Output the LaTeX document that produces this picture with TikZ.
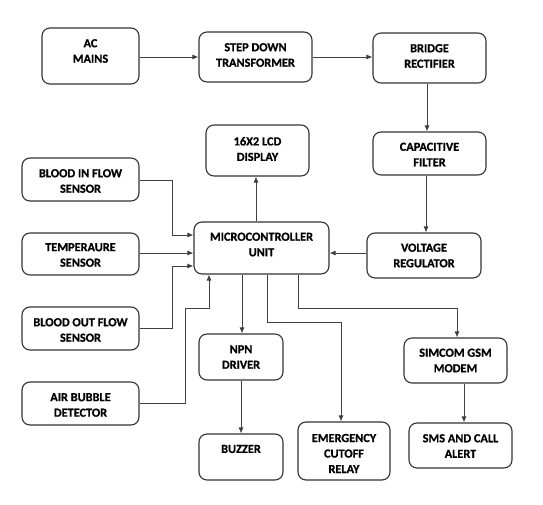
\documentclass[tikz,border=0pt]{standalone}
\usepackage{fontspec}
\setmainfont{Carlito}[BoldFont={Carlito Bold},BoldFeatures={FakeBold=0.8}]
\usetikzlibrary{fit,arrows.meta}
\begin{document}
\begin{tikzpicture}[x=1pt,y=-1pt,
  blk/.style={draw=black!80,line width=1.1pt,rounded corners=8pt,inner sep=0pt},
  txt/.style={align=center,font=\fontsize{12.3}{15.5}\selectfont\bfseries,inner sep=0pt,text=black},
  arr/.style={draw=black!75,line width=0.9pt,-{Latex[length=6pt,width=5pt]}},
  ln/.style={draw=black!75,line width=0.9pt}]
\useasboundingbox (0,0) rectangle (543,505);
\newcommand{\blk}[8]{%
  \node[blk,fit={(#2,#3)(#4,#5)}] (#1) {};
  \node[txt] (#1t) at (#6) {#7#8};}
\blk{ac}{42}{28}{139}{84}{90.5,51}{AC\\MAINS}{}
\blk{sd}{199}{32}{312}{82}{255.5,55}{STEP DOWN\\TRANSFORMER}{}
\blk{br}{373}{33}{486}{83}{429.5,56}{BRIDGE\\RECTIFIER}{}
\blk{lcd}{206}{125}{309}{176}{257.5,149}{16X2 LCD\\DISPLAY}{}
\blk{cap}{373}{132}{486}{175}{429.5,154.5}{CAPACITIVE\\FILTER}{}
\blk{bif}{22}{158}{139}{201}{80.5,181}{BLOOD IN FLOW\\SENSOR}{}
\blk{mcu}{194}{222}{329}{274}{261.5,244.5}{MICROCONTROLLER\\UNIT}{}
\blk{vr}{367}{233}{481}{278}{424,255.5}{VOLTAGE\\REGULATOR}{}
\blk{tmp}{22}{233}{139}{275}{80.5,255}{TEMPERAURE\\SENSOR}{}
\blk{bof}{22}{307}{139}{350}{80.5,330}{BLOOD OUT FLOW\\SENSOR}{}
\blk{npn}{199}{334}{283}{380}{241,357}{NPN\\DRIVER}{}
\blk{sim}{404}{338}{507}{383}{455.5,360.5}{SIMCOM GSM\\MODEM}{}
\blk{air}{22}{382}{139}{425}{80.5,405}{AIR BUBBLE\\DETECTOR}{}
\blk{buz}{199}{434}{283}{480}{241,449}{BUZZER}{}
\blk{emg}{298}{422}{390}{480}{344,453.5}{EMERGENCY\\CUTOFF\\RELAY}{}
\blk{sms}{409}{423}{512}{468}{460.5,446}{SMS AND CALL\\ALERT}{}
% power chain
\draw[arr] (ac.east |- 0,57) -- (sd.west |- 0,57);
\draw[arr] (sd.east |- 0,57) -- (br.west |- 0,57);
\draw[arr] (br.south -| 427,0) -- (cap.north -| 427,0);
\draw[arr] (cap.south -| 426,0) -- (vr.north -| 426,0);
\draw[arr] (vr.west |- 0,253) -- (mcu.east |- 0,253);
% MCU to LCD
\draw[arr] (mcu.north -| 256,0) -- (lcd.south -| 256,0);
% sensors
\draw[arr] (bif.east |- 0,180) -| (172,235) -- (mcu.west |- 0,235);
\draw[arr] (tmp.east |- 0,253) -- (mcu.west |- 0,253);
\draw[arr] (bof.east |- 0,328) -| (172,266) -- (mcu.west |- 0,266);
\draw[arr] (air.east |- 0,403) -| (185,308) -| (mcu.south -| 209,0);
% outputs
\draw[arr] (mcu.south -| 242,0) -- (npn.north -| 242,0);
\draw[arr] (npn.south -| 241,0) -- (buz.north -| 241,0);
\draw[arr] (mcu.south -| 267,0) |- (341,322) -- (emg.north -| 341,0);
\draw[arr] (mcu.south -| 298,0) |- (457,308) -- (sim.north -| 457,0);
\draw[arr] (sim.south -| 464,0) -- (sms.north -| 464,0);
\end{tikzpicture}
\end{document}
